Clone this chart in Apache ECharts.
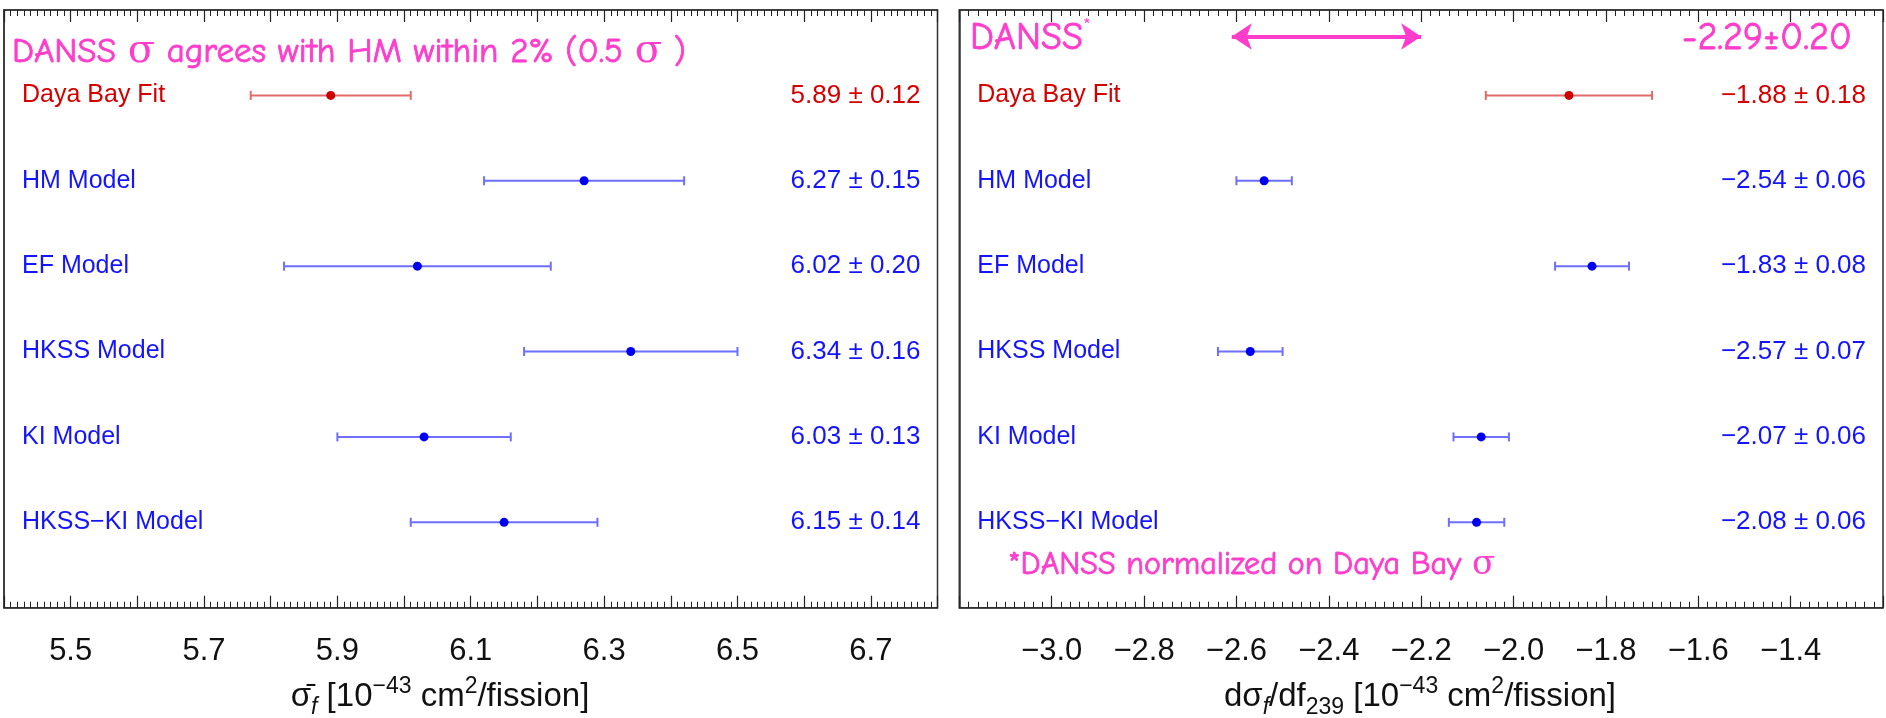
<!DOCTYPE html>
<html><head><meta charset="utf-8">
<script src="https://cdn.jsdelivr.net/npm/echarts@6/dist/echarts.min.js"></script>
<style>html,body{margin:0;padding:0;background:#fff}#c{width:1886px;height:718px}</style>
</head><body><div id="c"></div>
<script>
// ---- data ----
const models = ['Daya Bay Fit', 'HM Model', 'EF Model', 'HKSS Model', 'KI Model', 'HKSS\u2212KI Model'];
const rowPos = [6, 5, 4, 3, 2, 1];
const sigmaVal = [5.89, 6.27, 6.02, 6.34, 6.03, 6.15];
const sigmaErr = [0.12, 0.15, 0.20, 0.16, 0.13, 0.14];
const slopeVal = [-1.88, -2.54, -1.83, -2.57, -2.07, -2.08];
const slopeErr = [0.18, 0.06, 0.08, 0.07, 0.06, 0.06];
const sigmaTickLabels = ['5.5', '5.7', '5.9', '6.1', '6.3', '6.5', '6.7'];
const slopeTickLabels = ['\u22123.0', '\u22122.8', '\u22122.6', '\u22122.4', '\u22122.2', '\u22122.0', '\u22121.8', '\u22121.6', '\u22121.4'];
const dansArrow = [-2.61, -2.20];
const dansArrowRow = 6.69;

const PINK = '#ff3ccb';
const LABEL_FONT = '"Liberation Sans", Arial, Helvetica, sans-serif';
const PINK_FONT = '"Comic Sans MS", "Comic Neue", "DejaVu Sans", sans-serif';
const SERIF = '"DejaVu Serif", "Liberation Serif", serif';

function fmt(v) { return v.toFixed(2).replace('-', '\u2212'); }

function makeRender() {
  return function (params, api) {
    const v = api.value(0), e = api.value(1), r = api.value(2), idx = params.dataIndex;
    const cs = params.coordSys;
    const pL = api.coord([v - e, r]), pR = api.coord([v + e, r]), pC = api.coord([v, r]);
    const red = idx === 0;
    const txtCol = red ? '#d40000' : '#1414ff';
    const barCol = red ? '#e46a6a' : '#6e6eff';
    const dotCol = red ? '#cc0000' : '#0000f0';
    const y = pC[1];
    return {
      type: 'group', children: [
        { type: 'line', shape: { x1: pL[0], y1: y, x2: pR[0], y2: y }, style: { stroke: barCol, lineWidth: 2 } },
        { type: 'line', shape: { x1: pL[0], y1: y - 4.5, x2: pL[0], y2: y + 4.5 }, style: { stroke: barCol, lineWidth: 2 } },
        { type: 'line', shape: { x1: pR[0], y1: y - 4.5, x2: pR[0], y2: y + 4.5 }, style: { stroke: barCol, lineWidth: 2 } },
        { type: 'circle', shape: { cx: pC[0], cy: y, r: 4.5 }, style: { fill: dotCol } },
        { type: 'text', x: cs.x + 18, y: y, style: { text: models[idx], fill: txtCol, fontSize: 25, fontFamily: LABEL_FONT, align: 'left', verticalAlign: 'middle' } },
        { type: 'text', x: cs.x + cs.width - 17, y: y, style: { text: fmt(v) + ' \u00b1 ' + fmt(e), fill: txtCol, fontSize: 26, fontFamily: LABEL_FONT, align: 'right', verticalAlign: 'middle' } }
      ]
    };
  };
}

function xAxisDef(grid, min, max, interval, labels, pos) {
  return {
    type: 'value', gridIndex: grid, min: min, max: max, interval: interval, position: pos,
    axisLine: { show: true, onZero: false, lineStyle: { color: '#333', width: 1.5 } },
    axisTick: { show: true, inside: true, length: 12, lineStyle: { color: '#222', width: 1.2 } },
    minorTick: { show: true, splitNumber: 10, length: 6, lineStyle: { color: '#222', width: 1 } },
    splitLine: { show: false },
    axisLabel: {
      show: pos === 'bottom', margin: 28, fontSize: 31, color: '#111', fontFamily: LABEL_FONT,
      showMinLabel: true, showMaxLabel: true,
      formatter: function (val) { const s = val.toFixed(1).replace('-', '\u2212'); return labels.indexOf(s) >= 0 ? s : ''; }
    }
  };
}
function yAxisDef(grid) {
  return {
    type: 'value', gridIndex: grid, min: 0, max: 7,
    axisLine: { show: true, lineStyle: { color: '#333', width: 1.5 } },
    axisTick: { show: false }, axisLabel: { show: false }, splitLine: { show: false }
  };
}

const chart = echarts.init(document.getElementById('c'), null, { renderer: 'canvas' });
const sigmaData = models.map((m, i) => [sigmaVal[i], sigmaErr[i], rowPos[i]]);
const slopeData = models.map((m, i) => [slopeVal[i], slopeErr[i], rowPos[i]]);

const mainRich = {
  a: { fontSize: 33, fontFamily: LABEL_FONT, fill: '#111', lineHeight: 44, verticalAlign: 'middle' },
  sup: { fontSize: 23, fontFamily: LABEL_FONT, fill: '#111', verticalAlign: 'top', lineHeight: 22 },
  sub: { fontSize: 23, fontFamily: LABEL_FONT, fill: '#111', verticalAlign: 'bottom', lineHeight: 22 },
  subi: { fontSize: 23, fontFamily: LABEL_FONT, fontStyle: 'italic', fill: '#111', verticalAlign: 'bottom', lineHeight: 22 }
};

const pinkRich = {
  t: { fontSize: 35, fontFamily: PINK_FONT, fill: PINK, stroke: PINK, lineWidth: 0.8, verticalAlign: 'middle', lineHeight: 44 },
  g: { fontSize: 40, fontFamily: SERIF, fill: PINK, verticalAlign: 'middle', lineHeight: 44 },
  s: { fontSize: 20, fontFamily: PINK_FONT, fill: PINK, verticalAlign: 'top', lineHeight: 20 },
  b: { fontSize: 38, fontFamily: PINK_FONT, fill: PINK, stroke: PINK, lineWidth: 0.8, verticalAlign: 'middle', lineHeight: 44 },
  n: { fontSize: 32, fontFamily: PINK_FONT, fill: PINK, stroke: PINK, lineWidth: 0.8, verticalAlign: 'middle', lineHeight: 40 },
  ng: { fontSize: 34, fontFamily: SERIF, fill: PINK, verticalAlign: 'middle', lineHeight: 40 }
};

chart.setOption({
  animation: false,
  backgroundColor: '#fff',
  grid: [
    { left: 4, top: 10, width: 933.5, height: 597.7, show: true, borderColor: '#333', borderWidth: 1.5, backgroundColor: 'transparent' },
    { left: 959.3, top: 10, width: 933.3, height: 597.7, show: true, borderColor: '#333', borderWidth: 1.5, backgroundColor: 'transparent' }
  ],
  xAxis: [
    xAxisDef(0, 5.4, 6.8, 0.1, sigmaTickLabels, 'bottom'),
    xAxisDef(0, 5.4, 6.8, 0.1, sigmaTickLabels, 'top'),
    xAxisDef(1, -3.2, -1.2, 0.2, slopeTickLabels, 'bottom'),
    xAxisDef(1, -3.2, -1.2, 0.2, slopeTickLabels, 'top')
  ],
  yAxis: [yAxisDef(0), yAxisDef(1)],
  series: [
    { type: 'custom', xAxisIndex: 0, yAxisIndex: 0, data: sigmaData, encode: { x: [0], y: [2] }, renderItem: makeRender(), silent: true },
    { type: 'custom', xAxisIndex: 2, yAxisIndex: 1, data: slopeData, encode: { x: [0], y: [2] }, renderItem: makeRender(), silent: true },
    {
      type: 'scatter', xAxisIndex: 2, yAxisIndex: 1, symbolSize: 0, silent: true,
      data: dansArrow.map(v => [v, dansArrowRow]),
      markLine: {
        silent: true, symbol: ['arrow', 'arrow'], symbolSize: 20,
        label: { show: false },
        lineStyle: { color: PINK, width: 4, type: 'solid' },
        data: [[{ coord: [dansArrow[0], dansArrowRow] }, { coord: [dansArrow[1], dansArrowRow] }]]
      }
    }
  ],
  graphic: [
    { type: 'text', x: 12, y: 52, style: { text: '{t|DANSS }{g|\u03c3}{t| agrees with HM within 2% (0.5 }{g|\u03c3}{t| )}', rich: pinkRich, fill: PINK, verticalAlign: 'middle' } },
    { type: 'text', x: 970, y: 38, style: { text: '{b|DANSS}{s|*}', rich: pinkRich, fill: PINK, verticalAlign: 'middle' } },
    { type: 'text', x: 1852, y: 38, style: { text: '{b|-2.29\u00b10.20}', rich: pinkRich, fill: PINK, align: 'right', verticalAlign: 'middle' } },
    { type: 'text', x: 1008, y: 565, style: { text: '{n|*DANSS normalized on Daya Bay }{ng|\u03c3}', rich: pinkRich, fill: PINK, verticalAlign: 'middle' } },
    { type: 'text', x: 440, y: 697, style: { text: '{a|\u03c3\u0304}{subi|f}{a| [10}{sup|\u221243}{a| cm}{sup|2}{a|/fission]}', rich: mainRich, fill: '#111', align: 'center', verticalAlign: 'middle' } },
    { type: 'text', x: 1420, y: 697, style: { text: '{a|d\u03c3}{subi|f}{a|/df}{sub|239}{a| [10}{sup|\u221243}{a| cm}{sup|2}{a|/fission]}', rich: mainRich, fill: '#111', align: 'center', verticalAlign: 'middle' } }
  ]
});
</script>
</body></html>
